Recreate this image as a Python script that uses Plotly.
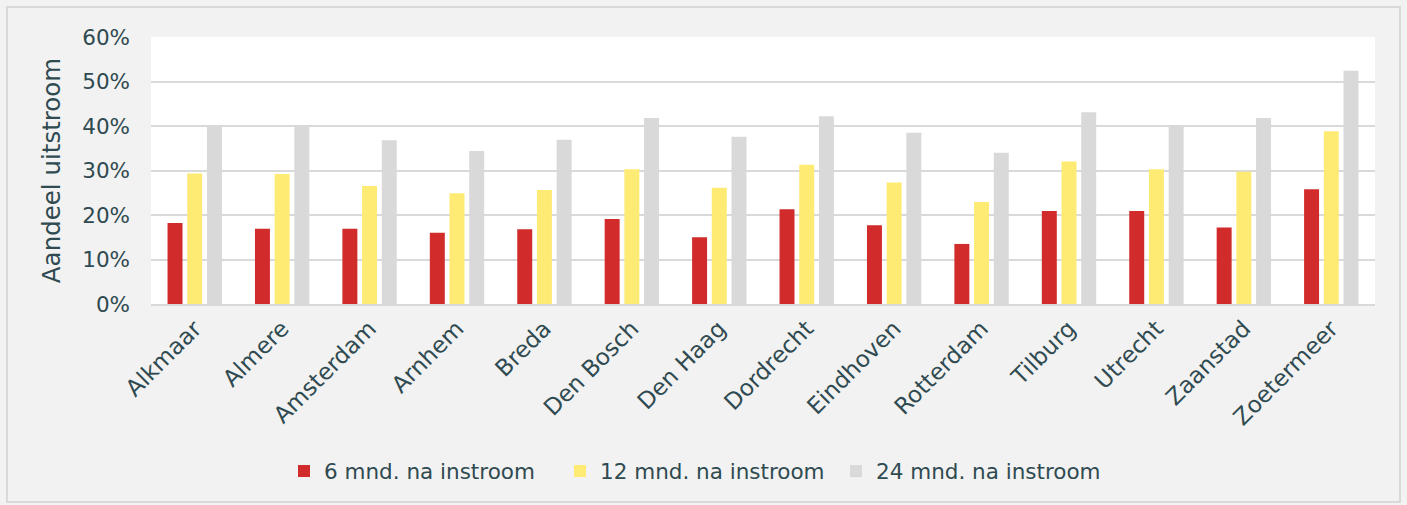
import plotly.graph_objects as go

cities = ["Alkmaar", "Almere", "Amsterdam", "Arnhem", "Breda", "Den Bosch", "Den Haag",
          "Dordrecht", "Eindhoven", "Rotterdam", "Tilburg", "Utrecht", "Zaanstad", "Zoetermeer"]
m6 = [18.2, 16.9, 16.9, 16.0, 16.8, 19.1, 15.0, 21.3, 17.7, 13.5, 20.9, 20.9, 17.2, 25.8]
m12 = [29.3, 29.2, 26.5, 24.9, 25.6, 30.3, 26.1, 31.3, 27.3, 22.9, 32.0, 30.3, 29.7, 38.8]
m24 = [39.9, 40.0, 36.8, 34.4, 36.9, 41.8, 37.6, 42.2, 38.5, 34.0, 43.1, 40.0, 41.8, 52.4]
series_names = ["6 mnd. na instroom", "12 mnd. na instroom", "24 mnd. na instroom"]
colors = ["#d22b2b", "#fdeb74", "#d9d9d9"]

text_color = "#2f4a50"
font_family = "'DejaVu Sans', sans-serif"

fig = go.Figure()
for name, vals, col in zip(series_names, [m6, m12, m24], colors):
    fig.add_trace(go.Bar(x=cities, y=[v / 100 for v in vals], name=name,
                         marker=dict(color=col, line=dict(width=0))))

W, H = 1407, 505
L, R, T, B = 151, 32, 37, 201
pw, ph = W - L - R, H - T - B

def px(x):
    return (x - L) / pw

def py(y):
    return (H - B - y) / ph

fig.update_layout(
    width=W, height=H,
    margin=dict(l=L, r=R, t=T, b=B, autoexpand=False),
    paper_bgcolor="#f2f2f2",
    plot_bgcolor="#ffffff",
    barmode="group",
    bargap=0.324,
    bargroupgap=0.24,
    font=dict(family=font_family, color=text_color, size=20),
    showlegend=True,
    legend=dict(orientation="h", x=px(284), xanchor="left", y=py(471), yanchor="middle",
                font=dict(size=21.5, color=text_color), bgcolor="rgba(0,0,0,0)",
                itemwidth=30, traceorder="normal", entrywidth=231, entrywidthmode="pixels"),
    xaxis=dict(tickangle=-45, tickfont=dict(size=23, color=text_color), showgrid=False,
               showline=True, linecolor="#d9d9d9", linewidth=2, ticks=""),
    yaxis=dict(range=[0, 0.6], dtick=0.1, tickformat=".0%", gridcolor="#d9d9d9", gridwidth=1.5,
               tickfont=dict(size=21.5, color=text_color), zeroline=False, ticks="",
               ticklabelstandoff=20,
               title=dict(text="Aandeel uitstroom", font=dict(size=24.5, color=text_color),
                          standoff=14)),
    shapes=[dict(type="rect", xref="paper", yref="paper", x0=px(7), x1=px(1400),
                 y0=py(502), y1=py(7), line=dict(color="#d9d9d9", width=2), layer="below")],
)

fig.write_html("out.html", config={"displayModeBar": False},
               post_script="document.body.style.margin='0';document.body.style.padding='0';")
